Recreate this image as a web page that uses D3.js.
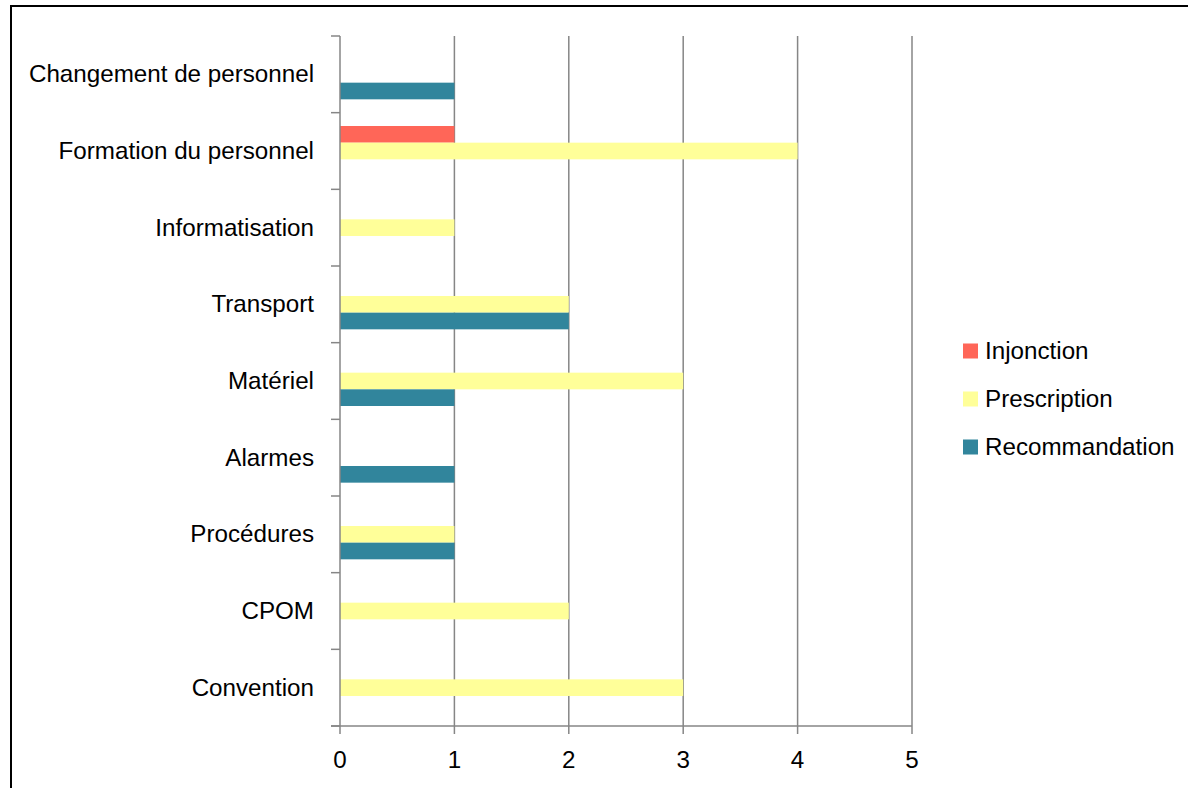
<!DOCTYPE html>
<html><head><meta charset="utf-8">
<script src="https://cdn.jsdelivr.net/npm/d3@7/dist/d3.min.js"></script>
<style>body{margin:0;background:#fff;} svg{display:block;}</style>
</head><body>
<script>
const categories = ["Changement de personnel","Formation du personnel","Informatisation","Transport","Matériel","Alarmes","Procédures","CPOM","Convention"];
const seriesNames = ["Injonction","Prescription","Recommandation"];
const injonction     = [0,1,0,0,0,0,0,0,0];
const prescription   = [0,4,1,2,3,0,1,2,3];
const recommandation = [1,0,0,2,1,1,1,0,0];
const xTicks = [0,1,2,3,4,5];
const colors = ["#FF6658","#FFFF99","#31859C"];

(function(){
const W=1188,H=788;
const svg=d3.select("body").append("svg").attr("width",W).attr("height",H);
const font="'Liberation Sans', Arial, sans-serif";
const fs=24.2;
svg.append("rect").attr("x",11).attr("y",6).attr("width",W).attr("height",H).attr("fill","#fff").attr("stroke","#000").attr("stroke-width",2);

const pL=340,pR=912,pT=36,pB=726;
const x=d3.scaleLinear().domain([0,5]).range([pL,pR]);
const y=d3.scaleBand().domain(categories).range([pT,pB]).paddingInner(0.348).paddingOuter(0.174);
const ys=d3.scaleBand().domain(seriesNames).range([0,y.bandwidth()]);
const data=[injonction,prescription,recommandation];

svg.append("g").selectAll("line").data(xTicks.slice(1)).join("line")
 .attr("x1",d=>x(d)).attr("x2",d=>x(d)).attr("y1",pT).attr("y2",pB)
 .attr("stroke","#868686").attr("stroke-width",1.5);

seriesNames.forEach((s,i)=>{
  svg.append("g").selectAll("rect").data(categories.map((c,j)=>({c,v:data[i][j]})).filter(d=>d.v>0)).join("rect")
   .attr("x",x(0)).attr("y",d=>y(d.c)+ys(s)).attr("width",d=>x(d.v)-x(0)).attr("height",ys.bandwidth())
   .attr("fill",colors[i]);
});

const tickYs=d3.range(categories.length+1).map(k=>pT+k*(pB-pT)/categories.length);
svg.append("line").attr("x1",pL).attr("x2",pL).attr("y1",pT).attr("y2",pB).attr("stroke","#868686").attr("stroke-width",1.5);
svg.append("g").selectAll("line").data(tickYs).join("line")
 .attr("x1",pL-9).attr("x2",pL).attr("y1",d=>d).attr("y2",d=>d).attr("stroke","#868686").attr("stroke-width",1.5);
svg.append("g").selectAll("text").data(categories).join("text")
 .attr("x",314).attr("y",d=>y(d)+y.bandwidth()/2+8).attr("text-anchor","end")
 .attr("font-family",font).attr("font-size",fs).attr("fill","#000").text(d=>d);

svg.append("line").attr("x1",pL-9).attr("x2",pR).attr("y1",pB).attr("y2",pB).attr("stroke","#868686").attr("stroke-width",1.5);
svg.append("g").selectAll("line").data(xTicks).join("line")
 .attr("x1",d=>x(d)).attr("x2",d=>x(d)).attr("y1",pB).attr("y2",pB+8).attr("stroke","#868686").attr("stroke-width",1.5);
svg.append("g").selectAll("text").data(xTicks).join("text")
 .attr("x",d=>x(d)).attr("y",768).attr("text-anchor","middle")
 .attr("font-family",font).attr("font-size",fs).attr("fill","#000").text(d=>d);

const lg=svg.append("g");
const ly=[351,399,447];
seriesNames.forEach((s,i)=>{
  lg.append("rect").attr("x",963).attr("y",ly[i]-7.5).attr("width",15).attr("height",15).attr("fill",colors[i]);
  lg.append("text").attr("x",985).attr("y",ly[i]+8).attr("font-family",font).attr("font-size",fs).attr("fill","#000").text(s);
});
})();
</script>
</body></html>
